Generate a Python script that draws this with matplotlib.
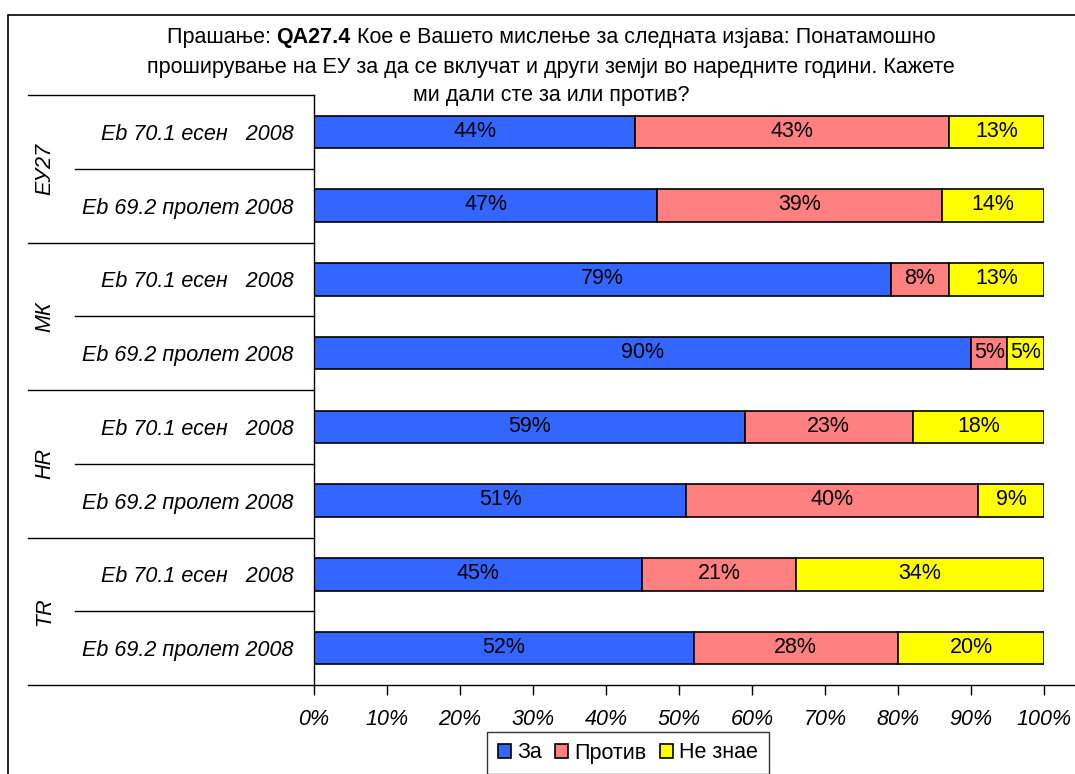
import matplotlib.pyplot as plt
import numpy as np
from matplotlib.patches import Rectangle
from matplotlib.transforms import blended_transform_factory

plt.rcParams['font.family'] = ['Liberation Sans', 'DejaVu Sans']

# Податоци
groups = ["ЕУ27", "МК", "HR", "TR"]
waves = ["Eb 70.1 есен   2008", "Eb 69.2 пролет 2008"]
za = [44, 47, 79, 90, 59, 51, 45, 52]
protiv = [43, 39, 8, 5, 23, 40, 21, 28]
ne_znae = [13, 14, 13, 5, 18, 9, 34, 20]
series_names = ["За", "Против", "Не знае"]
colors = ["#3366FF", "#FF8080", "#FFFF00"]
xticks = np.arange(0, 101, 10)

FS = 15.5
W, H = 1075, 774
fig = plt.figure(figsize=(W / 100, H / 100), dpi=100)
ax = fig.add_axes([314 / W, 1 - 685 / H, 730 / W, 590 / H])

rows = [w for g in groups for w in waves]
y = np.arange(len(rows))
left = np.zeros(len(rows))
for vals, name, col in zip([za, protiv, ne_znae], series_names, colors):
    vals = np.array(vals, dtype=float)
    ax.barh(y, vals, left=left, height=0.44, color=col, edgecolor='black',
            linewidth=1.2, label=name)
    for yi, l, v in zip(y, left, vals):
        ax.text(l + v / 2, yi - 0.01, f"{int(v)}%", ha='center', va='center',
                fontsize=FS)
    left += vals

ax.set_xlim(0, 100)
ax.set_ylim(len(rows) - 0.5, -0.5)
ax.set_xticks(xticks)
ax.set_xticklabels([f"{t}%" for t in xticks], fontsize=FS, style='italic')
ax.tick_params(axis='x', length=7, pad=10, width=1)
ax.set_yticks(y)
ax.set_yticklabels(rows, fontsize=FS, style='italic')
ax.tick_params(axis='y', length=0, pad=14.5)
for s in ['top', 'right', 'bottom']:
    ax.spines[s].set_visible(False)
ax.spines['left'].set_linewidth(1)

# линии за категориите
tr = blended_transform_factory(fig.transFigure, ax.transData)
for i in range(len(rows) + 1):
    yb = i - 0.5
    if i % 2 == 0:
        x0 = 28 / W
    else:
        x0 = 75 / W
    x1 = 314 / W if i < len(rows) else 1.0
    ax.plot([x0, x1], [yb, yb], color='black', lw=1, transform=tr, clip_on=False)

for gi, g in enumerate(groups):
    ax.text(45 / W, gi * 2 + 0.5, g, transform=tr, rotation=90, ha='center',
            va='center', fontsize=FS, style='italic')

# рамка
fig.add_artist(Rectangle((8 / W, -0.1), 1.2, 1 - 15 / H + 0.1, transform=fig.transFigure,
                         fill=False, edgecolor='black', lw=1.2))

# наслов
fig.canvas.draw()
r = fig.canvas.get_renderer()
line1 = [("Прашање: ", 'normal'), ("QA27.4", 'bold'),
         (" Кое е Вашето мислење за следната изјава: Понатамошно", 'normal')]
cx = 551
ty = H - 37
parts = []
for txt, wgt in line1:
    t = fig.text(0, ty / H, txt, fontsize=FS, weight=wgt, va='center', ha='left')
    parts.append(t)
widths = [p.get_window_extent(r).width for p in parts]
x = cx - sum(widths) / 2
for p, w in zip(parts, widths):
    p.set_x(x / W)
    x += w
fig.text(cx / W, 1 - 67 / H, "проширување на ЕУ за да се вклучат и други земји во наредните години. Кажете",
         fontsize=FS, ha='center', va='center')
fig.text(cx / W, 1 - 95 / H, "ми дали сте за или против?", fontsize=FS, ha='center', va='center')

leg = fig.legend(loc='center', bbox_to_anchor=(628 / W, 1 - 753 / H), ncol=3, fontsize=FS,
                 frameon=True, fancybox=False, edgecolor='black', handlelength=0.6,
                 handleheight=0.6, handletextpad=0.3, columnspacing=0.6, borderpad=0.5)
leg.get_frame().set_linewidth(1)

fig.savefig("out.png", dpi=100)
